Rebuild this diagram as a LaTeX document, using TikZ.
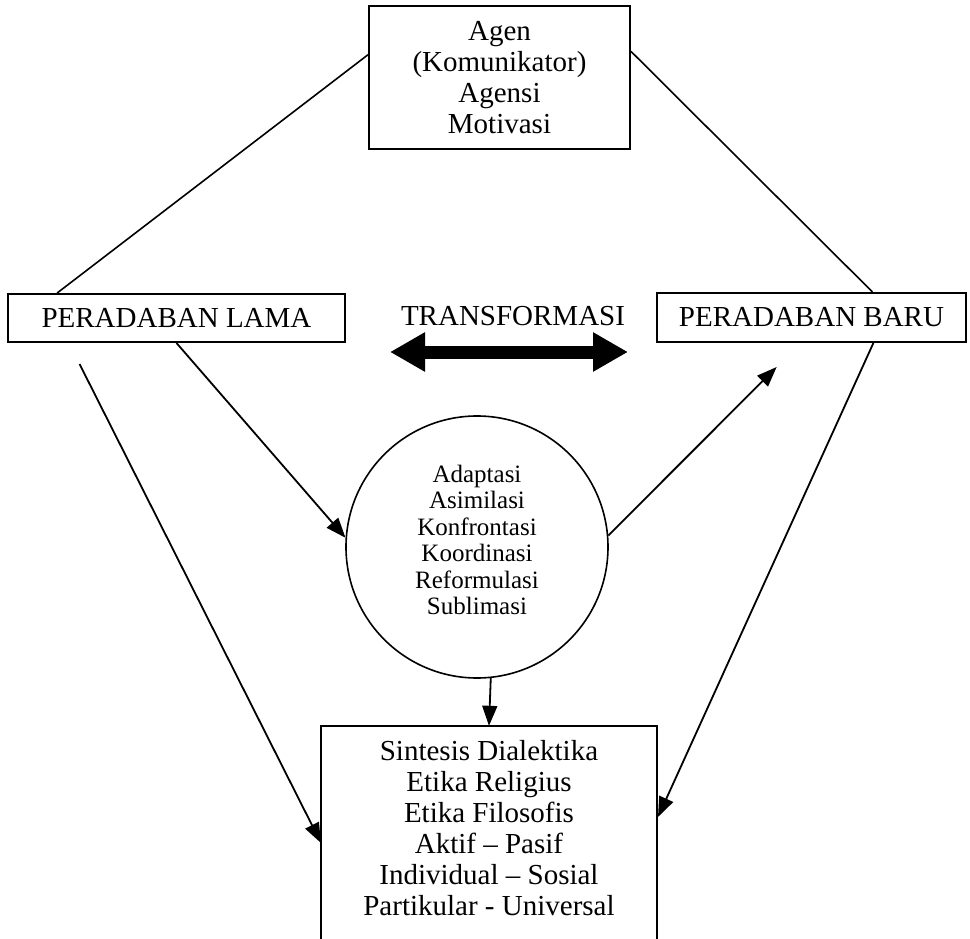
\documentclass[tikz,border=0pt]{standalone}
\usepackage{fontspec}
\setmainfont{Liberation Serif}
\usetikzlibrary{arrows.meta,calc}
\begin{document}
\begin{tikzpicture}[x=1pt,y=-1pt,
  txt/.style={font=\fontsize{29}{31}\selectfont,align=center},
  box/.style={txt,draw,line width=2pt,inner sep=0pt},
  arr/.style={line width=1.8pt,-{Triangle[length=20pt,width=15pt]}},
  ln/.style={line width=1.6pt}]
\useasboundingbox (0,0) rectangle (970,939);
\node[box,minimum width=261pt,minimum height=143pt] (agen) at (499.5,77.5) {Agen\\(Komunikator)\\Agensi\\Motivasi};
\node[box,minimum width=337pt,minimum height=48pt] (lama) at (176.5,318) {PERADABAN LAMA};
\node[box,minimum width=309pt,minimum height=49pt] (baru) at (811.5,317.5) {PERADABAN BARU};
\node[txt,anchor=base,inner sep=0pt] (trans) at (513,325) {TRANSFORMASI};
\coordinate (dl) at (390,352);
\coordinate (dr) at (628,352);
\draw[line width=13pt,{Triangle[length=35pt,width=37pt]}-{Triangle[length=35pt,width=37pt]}] (dl) -- (dr);
\node[circle,draw,line width=1.6pt,minimum size=262pt,inner sep=0pt] (circ) at (477,547) {};
\node[align=center,font=\fontsize{25}{26.5}\selectfont,inner sep=0pt] (circtxt) at (477,540) {Adaptasi\\Asimilasi\\Konfrontasi\\Koordinasi\\Reformulasi\\Sublimasi};
\node[txt,inner sep=0pt,minimum width=336pt,minimum height=205pt] (sint) at (489,828.5) {Sintesis Dialektika\\Etika Religius\\Etika Filosofis\\Aktif – Pasif\\Individual – Sosial\\Partikular - Universal};
\coordinate (sintSW) at (321,939);
\coordinate (sintSE) at (657,939);
\draw[line width=2pt] (sintSW) |- (sint.north) -| (sintSE);
% connectors
\draw[ln] ($(agen.north west)!0.343!(agen.south west)$) -- ($(lama.north west)!0.148!(lama.north east)$);
\draw[ln] ($(agen.north east)!0.32!(agen.south east)$) -- ($(baru.north west)!0.696!(baru.north east)$);
\draw[arr] ($(lama.south west)!0.214!(lama.south east)+(0,21)$) -- (321,843);
\draw[arr] (lama.south) -- (circ.176.6);
\draw[arr] (circ.5.3) -- ($(baru.south west)!0.388!(baru.south east)+(0,24)$);
\draw[arr] ($(baru.south west)!0.699!(baru.south east)$) -- (658,817);
\draw[arr] (circ.-84.7) -- (sint.north);
\end{tikzpicture}
\end{document}
